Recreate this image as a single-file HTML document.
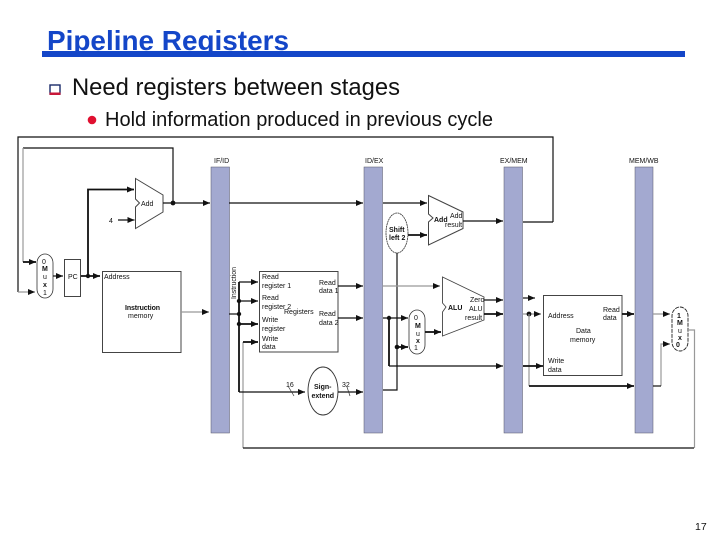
<!DOCTYPE html>
<html><head><meta charset="utf-8">
<style>
html,body{margin:0;padding:0;background:#fff}
svg{display:block}
text{font-family:"Liberation Sans",sans-serif;fill:#111}
.l{font-size:7px}
.b{font-size:7px;font-weight:bold}
.w{stroke:#111;stroke-width:1.2;fill:none}
.t{stroke:#111;stroke-width:1.8;fill:none}
.g{stroke:#999;stroke-width:1.2;fill:none}
.bar{fill:#a3a9d0;stroke:#556;stroke-width:.5}
.box{fill:#fff;stroke:#444;stroke-width:1}
</style></head>
<body>
<svg width="720" height="540" viewBox="0 0 720 540" xmlns="http://www.w3.org/2000/svg">
<defs>
<marker id="a" markerUnits="userSpaceOnUse" markerWidth="8" markerHeight="6" refX="7" refY="3" orient="auto"><path d="M0 0L7 3L0 6Z" fill="#111"/></marker>
</defs>

<!-- header -->
<text x="47" y="50" font-size="28" font-weight="bold" style="fill:#1446c8" textLength="242" lengthAdjust="spacingAndGlyphs">Pipeline Registers</text>
<rect x="42" y="51" width="643" height="6" fill="#1446c8"/>
<rect x="50" y="85" width="10" height="9" fill="#fff" stroke="#1a2a6a" stroke-width="1.400"/>
<rect x="49.500" y="92.500" width="11" height="2.500" fill="#c8183a"/>
<text x="72" y="95" font-size="24" textLength="328" lengthAdjust="spacingAndGlyphs">Need registers between stages</text>
<circle cx="92" cy="120" r="4.300" fill="#e01030"/>
<text x="105" y="126" font-size="20" textLength="388" lengthAdjust="spacingAndGlyphs">Hold information produced in previous cycle</text>
<text x="695" y="530" font-size="10.500">17</text>

<g style="filter:blur(.35px)">
<!-- pipeline bars -->
<rect class="bar" x="211" y="167" width="18.500" height="266"/>
<rect class="bar" x="364" y="167" width="18.500" height="266"/>
<rect class="bar" x="504" y="167" width="18.500" height="266"/>
<rect class="bar" x="635" y="167" width="18" height="266"/>
<text class="l" x="214" y="163">IF/ID</text>
<text class="l" x="365" y="163">ID/EX</text>
<text class="l" x="500" y="163">EX/MEM</text>
<text class="l" x="629" y="163">MEM/WB</text>

<!-- PC feedback -->
<path class="w" d="M553 222V137H18V292" />
<path class="g" d="M18 292H35" marker-end="url(#a)"/>
<path class="w" d="M553 222H523"/>
<path class="w" d="M173 203V148H23"/>
<path class="g" d="M23 148V262"/>
<path class="t" d="M23 262H36" marker-end="url(#a)"/>

<!-- mux 1 -->
<rect x="37" y="254" width="16" height="44" rx="8" ry="9" fill="#fff" stroke="#333" stroke-width=".8"/>
<text class="l" x="42" y="264">0</text><text class="b" x="42" y="271">M</text><text class="l" x="43" y="279">u</text><text class="b" x="43" y="287">x</text><text class="l" x="43" y="295">1</text>
<path class="w" d="M53 276H63" marker-end="url(#a)"/>
<rect class="box" x="64.500" y="259.500" width="16" height="37" stroke="#222"/>
<text class="l" x="68" y="279">PC</text>

<!-- add 1 -->
<path class="t" d="M81 276H100" marker-end="url(#a)"/>
<circle cx="88" cy="276" r="2.200" fill="#111"/>
<path class="t" d="M88 276V189.500H134" marker-end="url(#a)"/>
<path class="box" d="M135.500 178.500L163 195V212L135.500 228.500V207L139.500 203L135.500 199Z"/>
<text class="l" x="141" y="206">Add</text>
<text class="l" x="109" y="223">4</text>
<path class="w" d="M118 220H134.500" marker-end="url(#a)"/>
<path class="w" d="M163 203H210" marker-end="url(#a)"/>
<circle cx="173" cy="203" r="2.400" fill="#111"/>

<!-- instruction memory -->
<rect class="box" x="102.500" y="271.500" width="78.500" height="81"/>
<text class="l" x="104" y="279">Address</text>
<text class="b" x="125" y="310" font-size="6.500" textLength="35">Instruction</text>
<text class="l" x="128" y="318">memory</text>
<path class="g" d="M181 312H209" marker-end="url(#a)"/>

<!-- IF/ID to ID/EX -->
<path class="w" d="M229 203H363" marker-end="url(#a)"/>
<path class="w" d="M383 203H427" marker-end="url(#a)"/>
<text class="l" x="236" y="299" transform="rotate(-90 236 299)" textLength="32">Instruction</text>

<!-- registers -->
<rect class="box" x="259.500" y="271.500" width="78.500" height="80.500" stroke-width="1.200"/>
<path class="t" d="M239 282V392"/>
<path class="w" d="M239 282H258" marker-end="url(#a)"/>
<path class="w" d="M239 301H258" marker-end="url(#a)"/>
<path class="w" d="M229 314H239"/>
<path class="t" d="M239 324H258" marker-end="url(#a)"/>
<circle cx="239" cy="301" r="2.200" fill="#111"/><circle cx="239" cy="314" r="2.200" fill="#111"/><circle cx="239" cy="324" r="2.200" fill="#111"/>
<path class="g" d="M243 448V342"/>
<path class="t" d="M243 342H258" marker-end="url(#a)"/>
<text class="l" x="262" y="279">Read</text>
<text class="l" x="262" y="288">register 1</text>
<text class="l" x="262" y="300">Read</text>
<text class="l" x="262" y="309">register 2</text>
<text class="l" x="284" y="314">Registers</text>
<text class="l" x="262" y="322">Write</text>
<text class="l" x="262" y="331">register</text>
<text class="l" x="262" y="341">Write</text>
<text class="l" x="262" y="349">data</text>
<text class="l" x="319" y="285">Read</text>
<text class="l" x="319" y="293">data 1</text>
<text class="l" x="319" y="316">Read</text>
<text class="l" x="319" y="325">data 2</text>
<path class="w" d="M338 286H363" marker-end="url(#a)"/>
<path class="w" d="M338 318H363" marker-end="url(#a)"/>

<!-- sign extend -->
<path class="w" d="M239 392H305" marker-end="url(#a)"/>
<ellipse cx="323" cy="391" rx="15" ry="24" fill="#fff" stroke="#333" stroke-width=".9"/>
<text class="b" x="314" y="389">Sign-</text>
<text class="b" x="311.500" y="398">extend</text>
<path class="w" d="M338 392H363" marker-end="url(#a)"/>
<path d="M288 386L294 396M347 387L350 396" stroke="#333" stroke-width=".7"/>
<text class="l" x="286" y="387">16</text>
<text class="l" x="342" y="387">32</text>

<!-- shift left / add2 -->
<path class="w" d="M397 253V390H383"/>
<ellipse cx="397" cy="233" rx="11" ry="20" fill="#fff" stroke="#333" stroke-width=".8" stroke-dasharray="2 .5"/>
<text class="b" x="389" y="232">Shift</text>
<text class="b" x="389" y="240">left 2</text>
<path class="t" d="M408 235H427" marker-end="url(#a)"/>
<path class="box" d="M428.500 195.500L463 212V228.500L428.500 245V222L433 218L428.500 214Z"/>
<text class="b" x="434" y="222">Add</text>
<text class="l" x="450" y="218">Add</text>
<text class="l" x="445" y="227">result</text>
<path class="w" d="M463 221H503" marker-end="url(#a)"/>

<!-- ALU -->
<path class="g" d="M383 286H440" marker-end="url(#a)"/>
<path d="M442.500 277L484 297V320L442.500 336V312L446 307L442.500 303Z" fill="#fff" stroke="#444" stroke-width=".9"/>
<text class="b" x="448" y="310">ALU</text>
<text class="l" x="470" y="302">Zero</text>
<text class="l" x="469" y="311">ALU</text>
<text class="l" x="465" y="320">result</text>
<path class="w" d="M383 318H408" marker-end="url(#a)"/>
<circle cx="389" cy="318" r="2.200" fill="#111"/>
<path class="t" d="M389 318V366"/>
<path class="w" d="M389 366H503" marker-end="url(#a)"/>
<circle cx="397" cy="347" r="2.300" fill="#111"/>
<path class="t" d="M397 347H408" marker-end="url(#a)"/>
<rect x="409" y="310" width="16" height="44" rx="8" ry="9" fill="#fff" stroke="#333" stroke-width=".8"/>
<text class="l" x="414" y="320">0</text><text class="b" x="415" y="328">M</text><text class="l" x="416" y="336">u</text><text class="b" x="416" y="343">x</text><text class="l" x="414" y="350">1</text>
<path class="t" d="M425 332H441" marker-end="url(#a)"/>
<path class="w" d="M484 300H503" marker-end="url(#a)"/>
<path class="t" d="M484 314H503" marker-end="url(#a)"/>

<!-- data memory -->
<path class="w" d="M523 298H535" marker-end="url(#a)"/>
<path class="g" d="M523 314H541" marker-end="url(#a)"/>
<circle cx="529" cy="314" r="2.400" fill="#111"/>
<path class="g" d="M529 314V386"/>
<path class="t" d="M529 386H634" marker-end="url(#a)"/>
<path class="t" d="M523 366H543" marker-end="url(#a)"/>
<rect class="box" x="543.500" y="295.500" width="78.500" height="80"/>
<text class="l" x="548" y="318">Address</text>
<text class="l" x="603" y="312">Read</text>
<text class="l" x="603" y="320">data</text>
<text class="l" x="576" y="333">Data</text>
<text class="l" x="570" y="342">memory</text>
<text class="l" x="548" y="363">Write</text>
<text class="l" x="548" y="372">data</text>
<path class="t" d="M622 314H634" marker-end="url(#a)"/>

<!-- WB mux -->
<path class="g" d="M653 314H670" marker-end="url(#a)"/>
<path class="g" d="M661 386V344H670" marker-end="url(#a)"/>
<path class="w" d="M653 386H661"/>
<rect x="672" y="307" width="16" height="44" rx="8" ry="9" fill="#fff" stroke="#222" stroke-width=".9" stroke-dasharray="4 1"/>
<text class="b" x="677" y="318">1</text><text class="b" x="677" y="325">M</text><text class="l" x="678" y="333">u</text><text class="b" x="678" y="340">x</text><text class="b" x="676" y="347">0</text>
<path class="g" d="M688 330H694.500V448"/>
<path class="w" d="M243 448H694"/>
</g>
</svg>
</body></html>
